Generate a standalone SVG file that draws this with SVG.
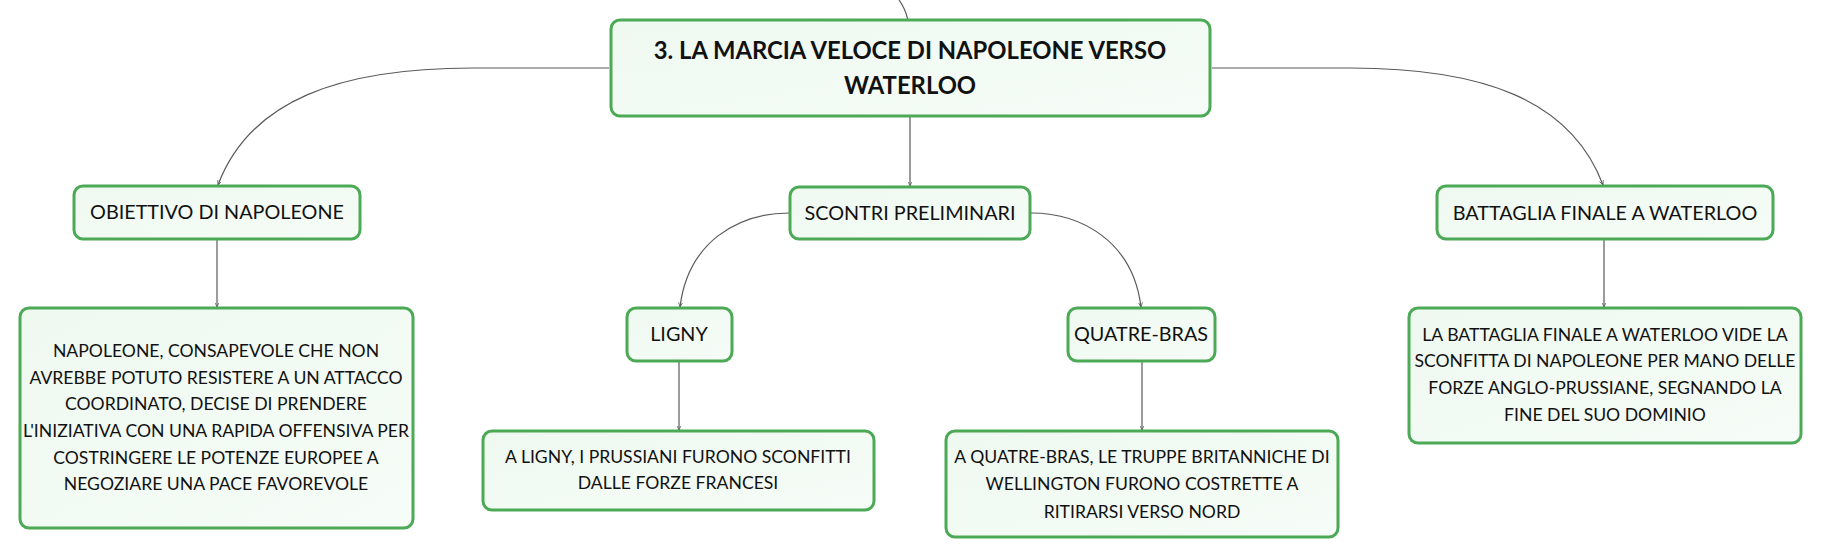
<svg xmlns="http://www.w3.org/2000/svg" width="1821" height="558" viewBox="0 0 1821 558">
<defs>
<linearGradient id="fill" x1="0" y1="0" x2="1" y2="1">
<stop offset="0" stop-color="#eef9f0"/>
<stop offset="1" stop-color="#f6fcf7"/>
</linearGradient>
<marker id="arr" viewBox="0 0 10 10" refX="9" refY="5" markerWidth="5" markerHeight="5" orient="auto-start-reverse" markerUnits="userSpaceOnUse">
<path d="M0,1 L9,5 L0,9" fill="none" stroke="#555" stroke-width="1.5"/>
</marker>
<style>
.box{fill:url(#fill);stroke:#4caa57;stroke-width:3}
.con{fill:none;stroke:#5a5a5a;stroke-width:1.2}
.t{font-family:Lato,"Noto Sans",sans-serif;fill:#111;text-anchor:middle}
.title{font-size:23.8px;font-weight:700}
.lbl{font-size:19.8px}
.par{font-size:17.6px}
</style>
</defs>
<rect width="1821" height="558" fill="#ffffff"/>
<g id="connectors">
<path class="con" d="M899,0 Q905,8 908,20"/>
<path class="con" d="M910,116 L910,186" marker-end="url(#arr)"/>
<path class="con" d="M609,68 L473,68 C340,68 250,100 218,185" marker-end="url(#arr)"/>
<path class="con" d="M1212,68 L1350,68 C1483,68 1571,100 1603,185" marker-end="url(#arr)"/>
<path class="con" d="M789,213 C738,213 688,242 680,307" marker-end="url(#arr)"/>
<path class="con" d="M1031,213 C1082,213 1133,242 1141,307" marker-end="url(#arr)"/>
<path class="con" d="M217,239 L217,307" marker-end="url(#arr)"/>
<path class="con" d="M679,362 L679,430" marker-end="url(#arr)"/>
<path class="con" d="M1142,362 L1142,430" marker-end="url(#arr)"/>
<path class="con" d="M1604,239 L1604,307" marker-end="url(#arr)"/>
</g>
<g id="main">
<rect class="box" x="611" y="20" width="599" height="96" rx="9"/>
<text class="t title" x="910" y="59">3. LA MARCIA VELOCE DI NAPOLEONE VERSO</text>
<text class="t title" x="910" y="94">WATERLOO</text>
</g>
<g id="obiettivo">
<rect class="box" x="74" y="186" width="286" height="53" rx="9"/>
<text class="t lbl" x="217" y="219">OBIETTIVO DI NAPOLEONE</text>
</g>
<g id="obiettivo-text">
<rect class="box" x="20" y="308" width="393" height="220" rx="9"/>
<text class="t par" x="216" y="357">NAPOLEONE, CONSAPEVOLE CHE NON</text>
<text class="t par" x="216" y="384">AVREBBE POTUTO RESISTERE A UN ATTACCO</text>
<text class="t par" x="216" y="410">COORDINATO, DECISE DI PRENDERE</text>
<text class="t par" x="216" y="437">L'INIZIATIVA CON UNA RAPIDA OFFENSIVA PER</text>
<text class="t par" x="216" y="464">COSTRINGERE LE POTENZE EUROPEE A</text>
<text class="t par" x="216" y="490">NEGOZIARE UNA PACE FAVOREVOLE</text>
</g>
<g id="scontri">
<rect class="box" x="790" y="187" width="240" height="52" rx="9"/>
<text class="t lbl" x="910" y="220">SCONTRI PRELIMINARI</text>
</g>
<g id="ligny">
<rect class="box" x="627" y="308" width="105" height="53" rx="9"/>
<text class="t lbl" x="679" y="341">LIGNY</text>
</g>
<g id="ligny-text">
<rect class="box" x="483" y="431" width="391" height="79" rx="9"/>
<text class="t par" x="678" y="463">A LIGNY, I PRUSSIANI FURONO SCONFITTI</text>
<text class="t par" x="678" y="489">DALLE FORZE FRANCESI</text>
</g>
<g id="quatre">
<rect class="box" x="1068" y="308" width="147" height="53" rx="9"/>
<text class="t lbl" x="1141" y="341">QUATRE-BRAS</text>
</g>
<g id="quatre-text">
<rect class="box" x="946" y="431" width="392" height="106" rx="9"/>
<text class="t par" x="1142" y="463">A QUATRE-BRAS, LE TRUPPE BRITANNICHE DI</text>
<text class="t par" x="1142" y="490">WELLINGTON FURONO COSTRETTE A</text>
<text class="t par" x="1142" y="518">RITIRARSI VERSO NORD</text>
</g>
<g id="battaglia">
<rect class="box" x="1437" y="186" width="336" height="53" rx="9"/>
<text class="t lbl" x="1605" y="220">BATTAGLIA FINALE A WATERLOO</text>
</g>
<g id="battaglia-text">
<rect class="box" x="1409" y="308" width="392" height="135" rx="9"/>
<text class="t par" x="1605" y="341">LA BATTAGLIA FINALE A WATERLOO VIDE LA</text>
<text class="t par" x="1605" y="367">SCONFITTA DI NAPOLEONE PER MANO DELLE</text>
<text class="t par" x="1605" y="394">FORZE ANGLO-PRUSSIANE, SEGNANDO LA</text>
<text class="t par" x="1605" y="421">FINE DEL SUO DOMINIO</text>
</g>
</svg>
